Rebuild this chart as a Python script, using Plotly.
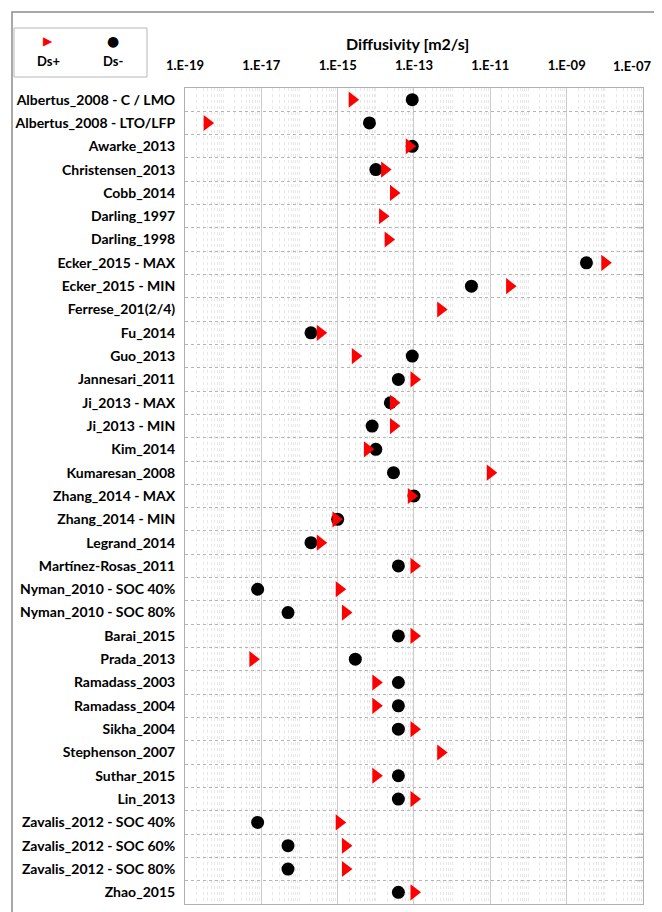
import plotly.graph_objects as go

categories = [
    "Albertus_2008 - C / LMO", "Albertus_2008 - LTO/LFP", "Awarke_2013", "Christensen_2013",
    "Cobb_2014", "Darling_1997", "Darling_1998", "Ecker_2015 - MAX", "Ecker_2015 - MIN",
    "Ferrese_201(2/4)", "Fu_2014", "Guo_2013", "Jannesari_2011", "Ji_2013 - MAX", "Ji_2013 - MIN",
    "Kim_2014", "Kumaresan_2008", "Zhang_2014 - MAX", "Zhang_2014 - MIN", "Legrand_2014",
    "Martínez-Rosas_2011", "Nyman_2010 - SOC 40%", "Nyman_2010 - SOC 80%", "Barai_2015",
    "Prada_2013", "Ramadass_2003", "Ramadass_2004", "Sikha_2004", "Stephenson_2007",
    "Suthar_2015", "Lin_2013", "Zavalis_2012 - SOC 40%", "Zavalis_2012 - SOC 60%",
    "Zavalis_2012 - SOC 80%", "Zhao_2015",
]

ds_plus = [
    2.4e-15, 3.8e-19, 7.5e-14, 1.7e-14, 2.9e-14, 1.5e-14, 2.1e-14, 1.0e-8, 3.2e-11,
    5.0e-13, 3.5e-16, 2.9e-15, 1.0e-13, 2.9e-14, 2.9e-14, 6.0e-15, 1.0e-11, 8.5e-14,
    9.0e-16, 3.5e-16, 1.0e-13, 1.1e-15, 1.6e-15, 1.0e-13, 6.0e-18, 1.0e-14, 1.0e-14,
    1.0e-13, 5.0e-13, 1.0e-14, 1.0e-13, 1.1e-15, 1.6e-15, 1.6e-15, 1.0e-13,
]

ds_minus = [
    9.0e-14, 6.8e-15, 9.0e-14, 1.0e-14, None, None, None, 3.3e-9, 3.2e-12,
    None, 2.0e-16, 9.0e-14, 3.9e-14, 2.4e-14, 8.0e-15, 1.0e-14, 2.9e-14, 1.0e-13,
    1.0e-15, 2.0e-16, 3.9e-14, 8.0e-18, 5.0e-17, 3.9e-14, 2.9e-15, 3.9e-14, 3.9e-14,
    3.9e-14, None, 3.9e-14, 3.9e-14, 8.0e-18, 5.0e-17, 5.0e-17, 3.9e-14,
]

tick_vals = [1e-19, 1e-17, 1e-15, 1e-13, 1e-11, 1e-9, 1e-7]
tick_text = ["1.E-19", "1.E-17", "1.E-15", "1.E-13", "1.E-11", "1.E-09", "1.E-07"]

FONT = "Lato"

minor_vals = []
for e in range(-19, -7):
    for k in range(1, 10):
        v = k * 10.0 ** e
        if k == 1 and (e + 19) % 2 == 0:
            continue
        minor_vals.append(v)

n = len(categories)

fig = go.Figure()

fig.add_trace(go.Scatter(
    x=ds_minus, y=categories, mode="markers", name="Ds-",
    marker=dict(symbol="circle", size=13, color="black"),
    showlegend=False,
))
fig.add_trace(go.Scatter(
    x=ds_plus, y=categories, mode="markers", name="Ds+",
    marker=dict(symbol="triangle-right", size=14, color="#FF0000"),
    showlegend=False,
))

# the last label would overflow the div, so it is written as an annotation below
axis_text = tick_text[:-1] + [""]

# page body has an 8px margin: figure is drawn 8px right/down of window origin
fig.update_layout(
    width=654, height=904,
    margin=dict(l=177, r=19, t=80, b=8),
    paper_bgcolor="white", plot_bgcolor="white",
    font=dict(family=FONT, color="black"),
    xaxis=dict(
        type="log", range=[-19.0, -6.9995], side="top",
        tickvals=tick_vals, ticktext=axis_text,
        tickfont=dict(family=FONT, size=13, color="black", weight="bold"),
        ticklabelstandoff=12,
        showgrid=True, gridcolor="#cccccc", gridwidth=1,
        minor=dict(tickvals=minor_vals, showgrid=True, gridcolor="#e8e8e8",
                   griddash="dot", gridwidth=1),
        showline=True, linecolor="#b0b0b0", linewidth=1, mirror=True,
        zeroline=False,
    ),
    yaxis=dict(
        type="category", categoryorder="array", categoryarray=categories,
        range=[n - 0.5, -0.5], tickson="boundaries",
        tickfont=dict(family=FONT, size=14, color="black", weight="bold"),
        showgrid=True, gridcolor="#b4b4b4", griddash="dot", gridwidth=1,
        showline=True, linecolor="#b0b0b0", linewidth=1, mirror=True,
        ticks="", ticklabelstandoff=6,
    ),
)

def px_x(px):
    return (px - 185) / 458.0

def px_y(py):
    return (904 - py) / 816.0

shapes = [
    dict(type="rect", xref="paper", yref="paper",
         x0=px_x(12), x1=px_x(668), y0=px_y(916), y1=px_y(12),
         line=dict(color="#8c8c8c", width=1.5), fillcolor="rgba(0,0,0,0)", layer="below"),
    dict(type="rect", xref="paper", yref="paper",
         x0=px_x(14), x1=px_x(147), y0=px_y(77), y1=px_y(28),
         line=dict(color="#b8b8b8", width=1), fillcolor="white"),
]
# small inside tick marks along the right border at row boundaries
for i in range(1, n):
    shapes.append(dict(type="line", xref="paper", yref="y",
                       x0=1.0, x1=1.0 - 5 / 458.0, y0=i - 0.5, y1=i - 0.5,
                       line=dict(color="#a0a0a0", width=1)))
fig.update_layout(shapes=shapes)

annotations = [
    dict(text="Diffusivity [m2/s]", xref="paper", yref="paper", x=px_x(407), y=px_y(44),
         showarrow=False, font=dict(family=FONT, size=16, color="black", weight="bold"),
         xanchor="center", yanchor="middle"),
    dict(text=tick_text[-1], xref="paper", yref="paper", x=px_x(653), y=px_y(66),
         showarrow=False, font=dict(family=FONT, size=13, color="black", weight="bold"),
         xanchor="right", yanchor="middle"),
    dict(text="▶", xref="paper", yref="paper", x=px_x(48), y=px_y(41),
         showarrow=False, font=dict(family="DejaVu Sans", size=12, color="#FF0000"),
         xanchor="center", yanchor="middle"),
    dict(text="●", xref="paper", yref="paper", x=px_x(113), y=px_y(41),
         showarrow=False, font=dict(family="DejaVu Sans", size=14, color="black"),
         xanchor="center", yanchor="middle"),
    dict(text="Ds+", xref="paper", yref="paper", x=px_x(48), y=px_y(61),
         showarrow=False, font=dict(family=FONT, size=13, color="black", weight="bold"),
         xanchor="center", yanchor="middle"),
    dict(text="Ds-", xref="paper", yref="paper", x=px_x(113), y=px_y(61),
         showarrow=False, font=dict(family=FONT, size=13, color="black", weight="bold"),
         xanchor="center", yanchor="middle"),
]
fig.update_layout(annotations=annotations)

fig.write_html("out.html")
